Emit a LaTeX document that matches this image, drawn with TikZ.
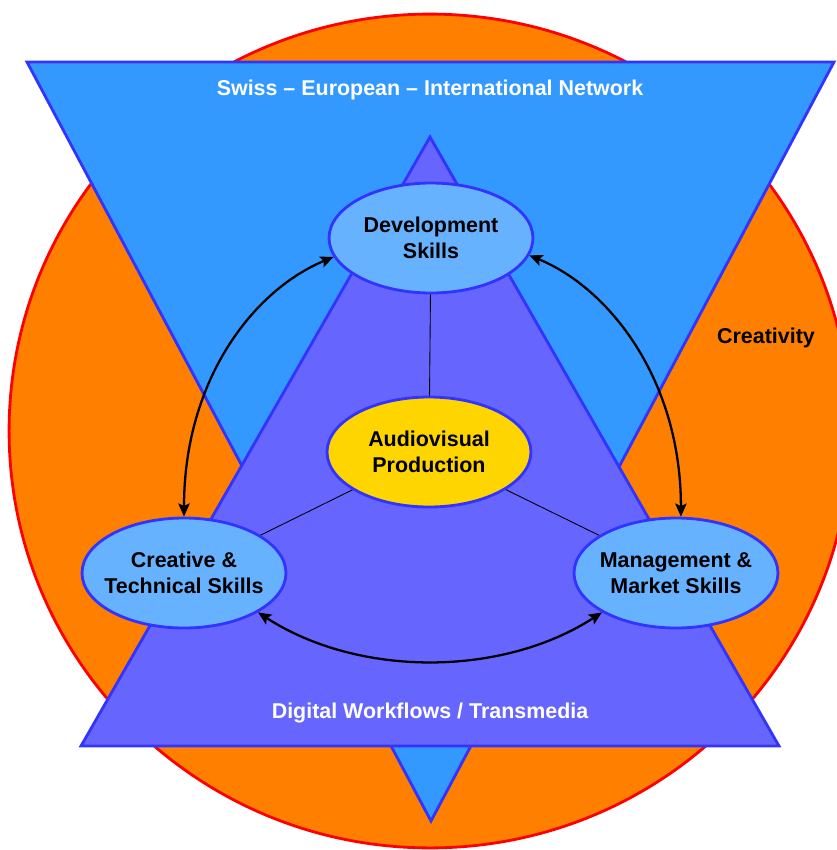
\documentclass[tikz,border=0pt]{standalone}
\usepackage{fontspec}
\setmainfont{Liberation Sans}
\usetikzlibrary{arrows.meta,shapes.geometric}
\definecolor{corange}{HTML}{FF8000}
\definecolor{cred}{HTML}{FF0000}
\definecolor{cblue}{HTML}{3399FF}
\definecolor{cborder}{HTML}{3333FF}
\definecolor{cpurple}{HTML}{6666FF}
\definecolor{clight}{HTML}{66B2FF}
\definecolor{cyellow}{HTML}{FFD500}
\begin{document}
\begin{tikzpicture}[x=0.02cm,y=-0.02cm,
  txt/.style={font=\fontsize{12.2}{14.8}\selectfont\bfseries,align=center},
  skill/.style={ellipse,draw=cborder,line width=1.6pt,fill=clight,minimum width=4.08cm,minimum height=2.2cm,inner xsep=-6pt,inner ysep=0pt,txt},
  thin/.style={line width=0.5pt,black},
  arr/.style={line width=1.3pt,black,{Stealth[length=7.5pt,width=6.5pt,inset=1.5pt]}-{Stealth[length=7.5pt,width=6.5pt,inset=1.5pt]}},
  tri/.style={draw=cborder,line width=1.6pt,line join=miter}]
\useasboundingbox (0,0) rectangle (837,850);
\clip (0,0) rectangle (837,850);
% circle
\draw[cred,line width=1.6pt,fill=corange] (430,431) ellipse [x radius=8.42cm,y radius=8.34cm];
% inverted triangle
\draw[tri,fill=cblue] (27,62) -- (834,62) -- (431,821) -- cycle;
% upright triangle
\draw[tri,fill=cpurple] (430,137) -- (779,746) -- (81,746) -- cycle;
% labels
\node[txt,text=white] (net) at (430,90) {Swiss – European – International Network};
\node[txt,text=black] (crea) at (766,338) {Creativity};
\node[txt,text=white] (dig) at (430,713) {Digital Workflows / Transmedia};
% ellipses
\node[skill] (dev) at (431,238) {Development\\Skills};
\node[skill,fill=cyellow] (av) at (429,452) {Audiovisual\\Production};
\node[skill] (ct) at (184,573) {Creative \&\\Technical Skills};
\node[skill] (mm) at (676,573) {Management \&\\Market Skills};
% thin links
\draw[thin] (dev) -- (av);
\draw[thin] (av) -- (ct);
\draw[thin] (av) -- (mm);
% arrows
\draw[arr] (ct.north) .. controls +(0,-137) and +(-80,33) .. (dev.191);
\draw[arr] (mm.85) .. controls +(0,-137) and +(80,33) .. (dev.350);
\draw[arr] (ct.332) .. controls +(100,65) and +(-100,65) .. (mm.208);
\end{tikzpicture}
\end{document}
